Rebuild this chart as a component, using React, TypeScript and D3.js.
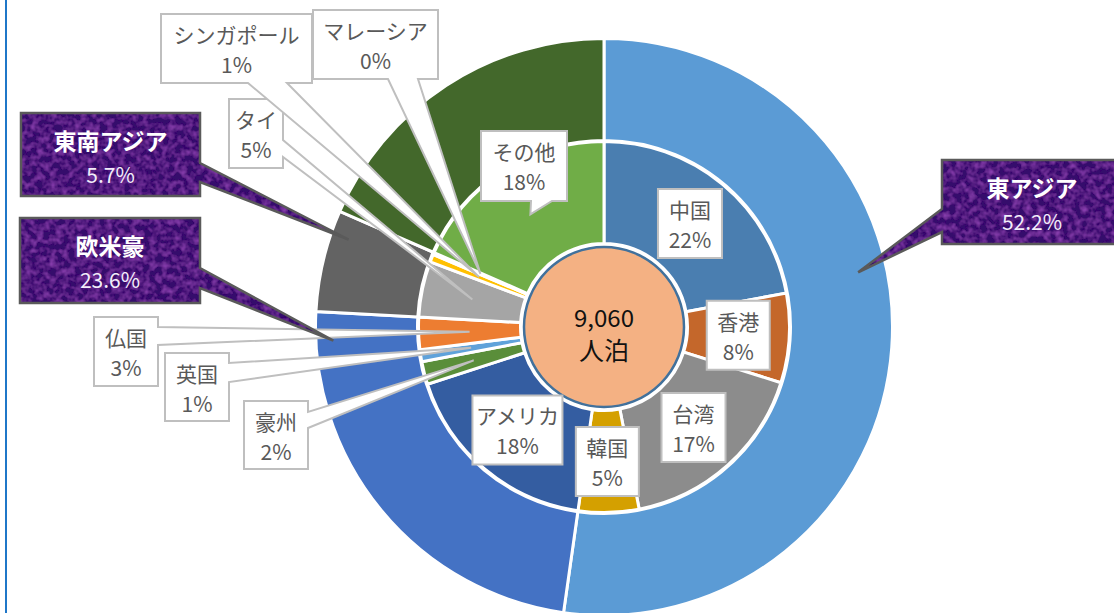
import React, { useEffect, useRef } from "react";
import * as d3 from "d3";

// 地域別（外側）と国別（内側）の延べ宿泊者数
const regions = ["東アジア", "欧米豪", "東南アジア", "その他"];
const regionValues = [4733, 2139, 518, 1670];

const countries = ["中国", "香港", "台湾", "韓国", "アメリカ", "豪州", "英国", "仏国", "タイ", "シンガポール", "マレーシア", "その他"];
const countryValues = [2000, 705, 1550, 478, 1610, 180, 95, 254, 440, 62, 16, 1670];

const unitLabel = "人泊";

const regionColors = ["#5B9BD5", "#4472C4", "#636363", "#43682B"];
const countryColors = ["#4A7EB0", "#C4672B", "#8C8C8C", "#D4A000", "#345DA1", "#5A8E3A", "#5FA2DA", "#ED7D31", "#A5A5A5", "#FFC000", "#264478", "#70AD47"];

const W = 1114;
const H = 613;
const cx = 604;
const cy = 327;

type Side = "left" | "right" | "bottom";
interface Box { x: number; y: number; w: number; h: number; side?: Side; base?: [number, number]; }

// callout boxes for outer ring (tip placed inside the slice: fraction of its angle span, radius)
const regionBoxes: Record<string, Box & { tipFrac: number; tipR: number }> = {
    "東アジア": { x: 942, y: 160, w: 180, h: 84, side: "left", base: [49, 72], tipFrac: 0.414, tipR: 260 },
    "欧米豪": { x: 20, y: 218, w: 180, h: 85, side: "right", base: [50, 70], tipFrac: 0.93, tipR: 271 },
    "東南アジア": { x: 21, y: 113, w: 179, h: 83, side: "right", base: [50, 69], tipFrac: 0.77, tipR: 270 },
};

// callout boxes for inner ring; without a box entry the label sits on the slice centroid
const countryBoxes: Record<string, Box> = {
    "仏国": { x: 94, y: 317, w: 64, h: 69, side: "right", base: [10, 28] },
    "英国": { x: 165, y: 353, w: 64, h: 68, side: "right", base: [10, 29] },
    "豪州": { x: 244, y: 401, w: 64, h: 68, side: "right", base: [11, 27] },
    "タイ": { x: 229, y: 99, w: 54, h: 69, side: "right", base: [41, 58] },
    "シンガポール": { x: 161, y: 14, w: 151, h: 69, side: "bottom", base: [87, 126] },
    "マレーシア": { x: 313, y: 10, w: 125, h: 69, side: "bottom", base: [75, 105] },
    "その他": { x: 481, y: 131, w: 86, h: 70, side: "bottom", base: [50, 71] },
};
const onSliceWidth: Record<string, number> = { "中国": 64, "香港": 63, "台湾": 64, "韓国": 63, "アメリカ": 90 };

const FONT = "'Noto Sans CJK JP', 'Noto Sans', sans-serif";

const calloutPath = (b: Box, tip?: [number, number]) => {
    const { x, y, w, h } = b;
    const r = x + w;
    const bt = y + h;
    if (!tip || !b.side || !b.base) return `M${x},${y}H${r}V${bt}H${x}Z`;
    const [p1, p2] = b.base;
    const [tx, ty] = tip;
    if (b.side === "right") return `M${x},${y}H${r}V${y + p1}L${tx},${ty}L${r},${y + p2}V${bt}H${x}Z`;
    if (b.side === "left") return `M${x},${y}H${r}V${bt}H${x}V${y + p2}L${tx},${ty}L${x},${y + p1}Z`;
    return `M${x},${y}H${r}V${bt}H${x + p2}L${tx},${ty}L${x + p1},${bt}H${x}Z`;
};

const App: React.FC = () => {
    const svgRef = useRef<SVGSVGElement | null>(null);

    useEffect(() => {
        if (!svgRef.current) return;
        const svg = d3.select(svgRef.current);
        svg.selectAll("*").remove();

        const total = d3.sum(regionValues);
        const pie = d3.pie<number>().sort(null).startAngle(0).endAngle(2 * Math.PI);
        const outerArcs = pie(regionValues);
        const innerArcs = pie(countryValues);

        const outerArc = d3.arc<d3.PieArcDatum<number>>().innerRadius(186.5).outerRadius(288.5);
        const innerArc = d3.arc<d3.PieArcDatum<number>>().innerRadius(83.5).outerRadius(185.5);

        // subtle texture for the purple callouts
        const defs = svg.append("defs");
        const f = defs.append("filter").attr("id", "purpleTex")
            .attr("x", 0).attr("y", 0).attr("width", 1).attr("height", 1);
        f.append("feTurbulence").attr("type", "fractalNoise").attr("baseFrequency", 0.16)
            .attr("numOctaves", 2).attr("seed", 7).attr("result", "noise");
        f.append("feColorMatrix").attr("in", "noise").attr("type", "matrix")
            .attr("values", "0 0 0 0 0.40  0 0 0 0 0.08  0 0 0 0 0.62  1.1 0 0 0 -0.42")
            .attr("result", "tint");
        f.append("feComposite").attr("in", "tint").attr("in2", "SourceGraphic")
            .attr("operator", "in").attr("result", "tintIn");
        const merge = f.append("feMerge");
        merge.append("feMergeNode").attr("in", "SourceGraphic");
        merge.append("feMergeNode").attr("in", "tintIn");

        // frame edge on the left
        svg.append("line").attr("x1", 6).attr("x2", 6).attr("y1", 0).attr("y2", H)
            .attr("stroke", "#1F77C8").attr("stroke-width", 2);

        const g = svg.append("g").attr("transform", `translate(${cx},${cy})`);

        g.append("g").selectAll("path").data(outerArcs).join("path")
            .attr("d", outerArc)
            .attr("fill", (d, i) => regionColors[i])
            .attr("stroke", "#fff").attr("stroke-width", 3);

        g.append("g").selectAll("path").data(innerArcs).join("path")
            .attr("d", innerArc)
            .attr("fill", (d, i) => countryColors[i])
            .attr("stroke", "#fff").attr("stroke-width", 3);

        // center circle with total
        g.append("circle").attr("r", 80).attr("fill", "#F4B183")
            .attr("stroke", "#41719C").attr("stroke-width", 2.5);
        g.append("text").attr("y", -11).attr("text-anchor", "middle").attr("dominant-baseline", "central")
            .attr("font-family", FONT).attr("font-size", 24).attr("fill", "#111")
            .text(d3.format(",")(total));
        g.append("text").attr("y", 22).attr("text-anchor", "middle").attr("dominant-baseline", "central")
            .attr("font-family", FONT).attr("font-size", 25).attr("fill", "#111")
            .text(unitLabel);

        const labels = svg.append("g");
        const pctInt = d3.format(".0%");
        const pct1 = d3.format(".1%");

        // inner ring labels (white boxes)
        innerArcs.forEach((a, i) => {
            const name = countries[i];
            const [mx, my] = innerArc.centroid(a);
            const tip: [number, number] = [cx + mx, cy + my];
            let box: Box = countryBoxes[name];
            if (!box) {
                const w = onSliceWidth[name] ?? 64;
                box = { x: tip[0] - w / 2, y: tip[1] - 34.5, w, h: 69 };
            }
            labels.append("path")
                .attr("d", calloutPath(box, box.side ? tip : undefined))
                .attr("fill", "#fff").attr("stroke", "#BFBFBF").attr("stroke-width", 2)
                .attr("stroke-linejoin", "miter");
            const tx = box.x + box.w / 2;
            labels.append("text").attr("x", tx).attr("y", box.y + 20)
                .attr("text-anchor", "middle").attr("dominant-baseline", "central")
                .attr("font-family", FONT).attr("font-size", 21).attr("fill", "#595959")
                .text(name);
            labels.append("text").attr("x", tx).attr("y", box.y + 50)
                .attr("text-anchor", "middle").attr("dominant-baseline", "central")
                .attr("font-family", FONT).attr("font-size", 21).attr("fill", "#595959")
                .text(pctInt(countryValues[i] / total));
        });

        // outer ring labels (purple boxes)
        outerArcs.forEach((a, i) => {
            const name = regions[i];
            const box = regionBoxes[name];
            if (!box) return;
            const ang = a.startAngle + box.tipFrac * (a.endAngle - a.startAngle);
            const tip: [number, number] = [cx + box.tipR * Math.sin(ang), cy - box.tipR * Math.cos(ang)];
            const d = calloutPath(box, tip);
            labels.append("path").attr("d", d).attr("fill", "#360A6C").attr("filter", "url(#purpleTex)");
            labels.append("path").attr("d", d).attr("fill", "none")
                .attr("stroke", "#5A5A5A").attr("stroke-width", 2.5);
            const tx = box.x + box.w / 2;
            labels.append("text").attr("x", tx).attr("y", box.y + 27)
                .attr("text-anchor", "middle").attr("dominant-baseline", "central")
                .attr("font-family", FONT).attr("font-size", 23).attr("font-weight", "bold")
                .attr("fill", "#fff").text(name);
            labels.append("text").attr("x", tx).attr("y", box.y + 61)
                .attr("text-anchor", "middle").attr("dominant-baseline", "central")
                .attr("font-family", FONT).attr("font-size", 21).attr("fill", "#F2ECFA")
                .text(pct1(regionValues[i] / total));
        });
    }, []);

    return (
        <svg
            ref={svgRef}
            width={W}
            height={H}
            viewBox={`0 0 ${W} ${H}`}
            style={{ position: "absolute", left: 0, top: 0, background: "#fff" }}
        />
    );
};

export default App;
